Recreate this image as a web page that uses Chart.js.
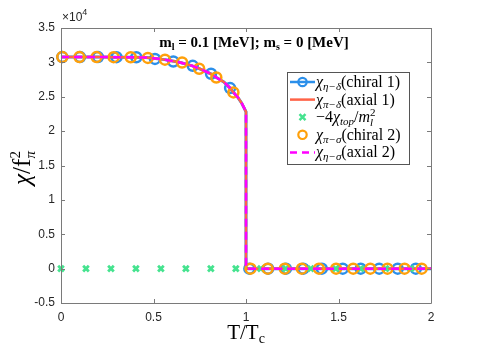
<!DOCTYPE html>
<html>
<head>
<meta charset="utf-8">
<script src="https://cdn.jsdelivr.net/npm/chart.js@4.4.0/dist/chart.umd.min.js"></script>
<style>
  html, body { margin: 0; padding: 0; background: #fff; }
  #wrap { width: 491px; height: 352px; }
</style>
</head>
<body>
<div id="wrap"><canvas id="chart" width="491" height="352"></canvas></div>
<script>
// dados (eixo y em unidades reais, mostrado em x10^4)
const curveT = [0, 0.1, 0.2, 0.3, 0.4, 0.46, 0.51, 0.56, 0.61, 0.65, 0.71, 0.75, 0.81, 0.84, 0.88, 0.914, 0.93, 0.955, 0.976, 0.995, 1.0, 1.0, 1.5, 2.0];
const chiral1Line = [30770, 30770, 30770, 30760, 30740, 30700, 30560, 30400, 30150, 29950, 29500, 29070, 28340, 27800, 27150, 26260, 25700, 24950, 24100, 23100, 22800, 0, 0, 0];
const axial1Line  = [30770, 30770, 30770, 30760, 30740, 30700, 30560, 30400, 30150, 29950, 29500, 29070, 28340, 27800, 27150, 26260, 25700, 24950, 24100, 23100, 22800, 0, 0, 0];
const axial2Line  = [30770, 30770, 30770, 30760, 30740, 30700, 30560, 30400, 30150, 29950, 29500, 29070, 28340, 27800, 27150, 26260, 25700, 24950, 24100, 23100, 22800, 0, 0, 0];

const chiral1T = [0.007, 0.103, 0.2, 0.3, 0.407, 0.508, 0.607, 0.712, 0.811, 0.914, 1.018, 1.12, 1.216, 1.31, 1.41, 1.523, 1.62, 1.72, 1.82, 1.918];
const chiral1Y = [30770, 30770, 30770, 30760, 30740, 30500, 30130, 29500, 28340, 26260, 0, 0, 0, 0, 0, 0, 0, 0, 0, 0];

const chiral2T = [0.007, 0.0995, 0.192, 0.2845, 0.377, 0.4695, 0.562, 0.6545, 0.747, 0.8395, 0.932, 1.0245, 1.117, 1.2095, 1.302, 1.3945, 1.487, 1.5795, 1.672, 1.7645, 1.857, 1.9495];
const chiral2Y = [30770, 30770, 30770, 30760, 30740, 30650, 30400, 29980, 29070, 27800, 25630, 0, 0, 0, 0, 0, 0, 0, 0, 0, 0, 0];

const topT = [0, 0.135, 0.27, 0.405, 0.54, 0.675, 0.81, 0.945, 1.08, 1.215, 1.35, 1.485, 1.62, 1.755, 1.89];
const topY = [0, 0, 0, 0, 0, 0, 0, 0, 0, 0, 0, 0, 0, 0, 0];

const xTickLabels = ['0', '0.5', '1', '1.5', '2'];
const yTickLabels = ['-0.5', '0', '0.5', '1', '1.5', '2', '2.5', '3', '3.5'];

const BLUE = '#2b8fea';
const RED = '#ff6347';
const GREEN = '#45e38f';
const ORANGE = '#ffa00a';
const MAGENTA = '#ff00ff';
const SERIF = '"Liberation Serif", "DejaVu Serif", serif';
const SANS = '"Liberation Sans", Arial, sans-serif';

function pts(xs, ys) { return xs.map((x, i) => ({ x: x, y: ys[i] })); }

// texto com índices/expoentes
function richText(ctx, x, y, parts, align) {
  const fontOf = p => (p.i ? 'italic ' : '') + (p.b ? 'bold ' : '') + p.s + 'px ' + (p.f || SERIF);
  let w = 0;
  parts.forEach(p => { ctx.font = fontOf(p); if (!p.keep) w += ctx.measureText(p.t).width; });
  let cx = align === 'center' ? x - w / 2 : x;
  parts.forEach(p => {
    ctx.font = fontOf(p);
    ctx.fillText(p.t, cx, y + (p.dy || 0));
    if (!p.keep) cx += ctx.measureText(p.t).width;
  });
}

const legendItems = [
  { kind: 'lineCircle', color: BLUE, parts: [{t:'χ',s:16,i:1},{t:'η−δ',s:11,dy:3,i:1},{t:'(chiral 1)',s:16}] },
  { kind: 'line', color: RED, parts: [{t:'χ',s:16,i:1},{t:'π−δ',s:11,dy:3,i:1},{t:'(axial 1)',s:16}] },
  { kind: 'cross', color: GREEN, parts: [{t:'−4',s:16},{t:'χ',s:16,i:1},{t:'top',s:11,dy:3,i:1},{t:'/',s:16},{t:'m',s:16,i:1},{t:'2',s:11,dy:-6,keep:1},{t:'l',s:11,dy:4,i:1}] },
  { kind: 'circle', color: ORANGE, parts: [{t:'χ',s:16,i:1},{t:'π−σ',s:11,dy:3,i:1},{t:'(chiral 2)',s:16}] },
  { kind: 'dash', color: MAGENTA, parts: [{t:'χ',s:16,i:1},{t:'η−σ',s:11,dy:3,i:1},{t:'(axial 2)',s:16}] }
];

const decor = {
  id: 'decor',
  afterDraw(chart) {
    const ctx = chart.ctx;
    const a = chart.chartArea;
    const xs = chart.scales.x, ys = chart.scales.y;
    ctx.save();
    // caixa e marcas para dentro
    ctx.strokeStyle = '#7a7a7a';
    ctx.lineWidth = 1;
    ctx.beginPath();
    ctx.rect(Math.round(a.left) + 0.5, Math.round(a.top) + 0.5, Math.round(a.right - a.left), Math.round(a.bottom - a.top));
    xs.ticks.forEach(t => {
      const px = Math.round(xs.getPixelForValue(t.value)) + 0.5;
      ctx.moveTo(px, a.bottom); ctx.lineTo(px, a.bottom - 4);
      ctx.moveTo(px, a.top); ctx.lineTo(px, a.top + 4);
    });
    ys.ticks.forEach(t => {
      const py = Math.round(ys.getPixelForValue(t.value)) + 0.5;
      ctx.moveTo(a.left, py); ctx.lineTo(a.left + 4, py);
      ctx.moveTo(a.right, py); ctx.lineTo(a.right - 4, py);
    });
    ctx.stroke();

    ctx.fillStyle = '#262626';
    ctx.textBaseline = 'alphabetic';
    // x10^4
    richText(ctx, 62, 21, [{t:'×10',s:12,f:SANS},{t:'4',s:9,dy:-6,f:SANS}], 'left');
    // título
    ctx.fillStyle = '#000';
    richText(ctx, 254, 47, [{t:'m',s:15,b:1},{t:'l',s:10,dy:3,b:1},{t:' = 0.1 [MeV]; m',s:15,b:1},{t:'s',s:10,dy:3,b:1},{t:' = 0 [MeV]',s:15,b:1}], 'center');
    // rótulo x
    richText(ctx, 246, 339, [{t:'T/T',s:21},{t:'c',s:14,dy:4}], 'center');
    // rótulo y
    ctx.save();
    ctx.translate(30, 168);
    ctx.rotate(-Math.PI / 2);
    richText(ctx, 0, 0, [{t:'χ',s:25,i:1},{t:'/f',s:25},{t:'2',s:15,dy:-10,keep:1},{t:'π',s:15,dy:5,i:1}], 'center');
    ctx.restore();

    // legenda
    const L = 287, T = 72, W = 122, H = 92;
    ctx.fillStyle = '#fff';
    ctx.fillRect(L, T, W, H);
    ctx.strokeStyle = '#555';
    ctx.lineWidth = 1;
    ctx.strokeRect(L + 0.5, T + 0.5, W, H);
    legendItems.forEach((it, k) => {
      const cy = 82 + k * 17.6;
      const x0 = 290, x1 = 315, xm = 302.5;
      ctx.lineWidth = 2.5;
      ctx.strokeStyle = it.color;
      if (it.kind === 'lineCircle' || it.kind === 'line') {
        ctx.beginPath(); ctx.moveTo(x0, cy); ctx.lineTo(x1, cy); ctx.stroke();
      }
      if (it.kind === 'dash') {
        ctx.setLineDash([7, 5]);
        ctx.beginPath(); ctx.moveTo(x0, cy); ctx.lineTo(x1, cy); ctx.stroke();
        ctx.setLineDash([]);
      }
      if (it.kind === 'lineCircle' || it.kind === 'circle') {
        ctx.lineWidth = 2.2;
        ctx.beginPath(); ctx.arc(xm, cy, 4.2, 0, Math.PI * 2); ctx.stroke();
      }
      if (it.kind === 'cross') {
        ctx.beginPath();
        ctx.moveTo(xm - 3, cy - 3); ctx.lineTo(xm + 3, cy + 3);
        ctx.moveTo(xm + 3, cy - 3); ctx.lineTo(xm - 3, cy + 3);
        ctx.stroke();
      }
      ctx.fillStyle = '#000';
      richText(ctx, 316, cy + 5, it.parts, 'left');
    });
    ctx.restore();
  }
};

const ctx = document.getElementById('chart').getContext('2d');
const chart = new Chart(ctx, {
  type: 'scatter',
  data: {
    datasets: [
      { data: pts(curveT, chiral1Line), showLine: true, borderColor: BLUE, borderWidth: 3, pointRadius: 0, order: 7, clip: false },
      { data: pts(chiral1T, chiral1Y), borderColor: BLUE, backgroundColor: 'rgba(0,0,0,0)', pointStyle: 'circle', pointRadius: 5, pointBorderWidth: 2.5, order: 6, clip: false },
      { data: pts(curveT, axial1Line), showLine: true, borderColor: RED, borderWidth: 2.5, pointRadius: 0, order: 5, clip: false },
      { data: pts(topT, topY), borderColor: GREEN, backgroundColor: GREEN, pointStyle: 'crossRot', pointRadius: 4, pointBorderWidth: 2.8, order: 4, clip: false },
      { data: pts(chiral2T, chiral2Y), borderColor: ORANGE, backgroundColor: 'rgba(0,0,0,0)', pointStyle: 'circle', pointRadius: 5, pointBorderWidth: 2.5, order: 3, clip: false },
      { data: pts(curveT, axial2Line), showLine: true, borderColor: MAGENTA, borderWidth: 2.5, borderDash: [8, 5], pointRadius: 0, order: 1, clip: false }
    ]
  },
  options: {
    responsive: false,
    animation: false,
    events: [],
    layout: { padding: { top: 28, right: 60, left: 0, bottom: 0 } },
    plugins: { legend: { display: false }, tooltip: { enabled: false } },
    scales: {
      x: {
        type: 'linear', min: 0, max: 2,
        grid: { display: false, drawTicks: false },
        border: { display: false },
        ticks: { stepSize: 0.5, padding: 7, color: '#262626', font: { family: SANS, size: 12 },
                 callback: (v, i) => xTickLabels[i] },
        afterFit: s => { s.height = 49; }
      },
      y: {
        type: 'linear', min: -5000, max: 35000,
        grid: { display: false, drawTicks: false },
        border: { display: false },
        ticks: { stepSize: 5000, padding: 6, color: '#262626', font: { family: SANS, size: 12 },
                 callback: (v, i) => yTickLabels[i] },
        afterFit: s => { s.width = 61; }
      }
    }
  },
  plugins: [decor]
});
</script>
</body>
</html>
